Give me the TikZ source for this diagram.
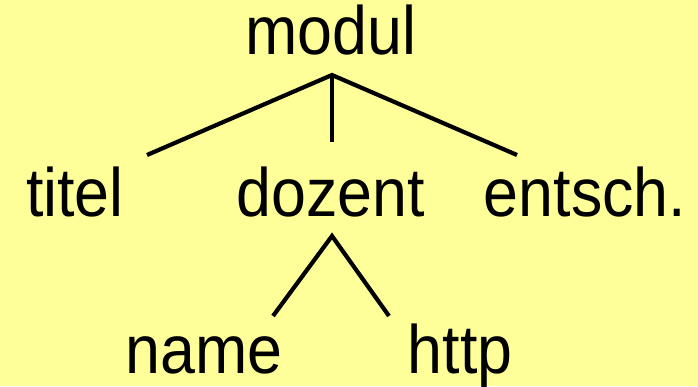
\documentclass[tikz,border=0pt]{standalone}
\usepackage{fontspec}
\usepackage{graphicx}
\setmainfont{Liberation Sans}
\definecolor{bgyellow}{HTML}{FFFF99}
\newcommand{\tallt}[1]{\scalebox{0.98}[1.07]{#1}}
\begin{document}
\begin{tikzpicture}[x=1pt,y=-1pt,
  lbl/.style={anchor=base,inner sep=0pt,font=\fontsize{64}{70}\selectfont},
  edge/.style={line width=4.2pt,black}]
\fill[bgyellow] (0,0) rectangle (698,386);
\useasboundingbox (0,0) rectangle (698,386);
\node[lbl] (modul) at (331,54) {\tallt{modul}};
\node[lbl] (titel) at (75,216) {\tallt{titel}};
\node[lbl] (dozent) at (331,216) {\tallt{dozent}};
\node[lbl] (entsch) at (585,216) {\tallt{entsch.}};
\node[lbl] (name) at (204,373) {\tallt{name}};
\node[lbl] (http) at (460,373) {\tallt{http}};
\coordinate (mtop) at (332,75);
\coordinate (tl) at (147,155);
\coordinate (dm) at (332,142);
\coordinate (er) at (517,155);
\coordinate (dtop) at (332,236);
\coordinate (nl) at (273,316);
\coordinate (hr) at (389,316);
\draw[edge] (tl) -- (mtop) -- (er);
\draw[edge] (mtop) -- (dm);
\draw[edge] (nl) -- (dtop) -- (hr);
\end{tikzpicture}
\end{document}
